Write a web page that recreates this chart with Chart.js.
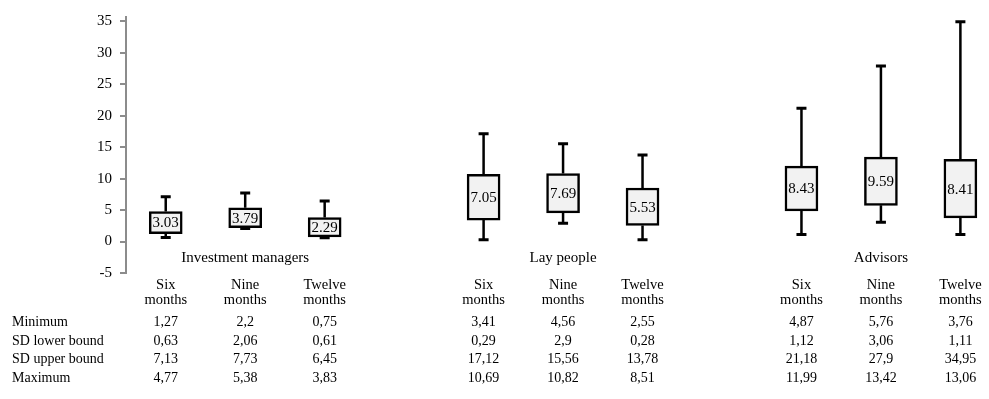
<!DOCTYPE html>
<html>
<head>
<meta charset="utf-8">
<script src="https://cdn.jsdelivr.net/npm/chart.js@4"></script>
<style>
  html, body { margin: 0; padding: 0; background: #fff; overflow: hidden; }
  canvas { display: block; }
</style>
</head>
<body>
<canvas id="boxChart" width="989" height="399"></canvas>
<script>
// categories
const groups = ['Investment managers', 'Lay people', 'Advisors'];
const periods = [['Six', 'months'], ['Nine', 'months'], ['Twelve', 'months']];
const rowNames = ['Minimum', 'SD lower bound', 'SD upper bound', 'Maximum'];

// series values, one per box (group by group, six/nine/twelve months)
const means   = [3.03, 3.79, 2.29, 7.05, 7.69, 5.53, 8.43, 9.59, 8.41];
const minimum = [1.27, 2.2, 0.75, 3.41, 4.56, 2.55, 4.87, 5.76, 3.76];
const sdLower = [0.63, 2.06, 0.61, 0.29, 2.9, 0.28, 1.12, 3.06, 1.11];
const sdUpper = [7.13, 7.73, 6.45, 17.12, 15.56, 13.78, 21.18, 27.9, 34.95];
const maximum = [4.77, 5.38, 3.83, 10.69, 10.82, 8.51, 11.99, 13.42, 13.06];

//slot index on the x scale: three boxes per group, one empty slot between groups
const slots = groups.flatMap((g, gi) => periods.map((p, pi) => gi * (periods.length + 1) + pi));
const fmt = v => String(v).replace('.', ',');
const serif = 'Liberation Serif, Times New Roman, serif';

const boxExtras = {
    id: 'boxExtras',
    afterDatasetsDraw(chart) {
        const ctx = chart.ctx;
        const x = chart.scales.x, y = chart.scales.y;
        ctx.save();
        ctx.strokeStyle = '#000';
        slots.forEach((s, i) => {
            const px = x.getPixelForValue(s);
            //whiskers from box edges to SD bounds
            ctx.lineWidth = 2.5;
            ctx.beginPath();
            ctx.moveTo(px, y.getPixelForValue(maximum[i]));
            ctx.lineTo(px, y.getPixelForValue(sdUpper[i]));
            ctx.moveTo(px, y.getPixelForValue(minimum[i]));
            ctx.lineTo(px, y.getPixelForValue(sdLower[i]));
            ctx.stroke();
            //caps
            ctx.lineWidth = 3;
            ctx.beginPath();
            [sdUpper[i], sdLower[i]].forEach(v => {
                const py = y.getPixelForValue(v);
                ctx.moveTo(px - 5, py);
                ctx.lineTo(px + 5, py);
            });
            ctx.stroke();
            //mean label
            ctx.fillStyle = '#000';
            ctx.font = '15px ' + serif;
            ctx.textAlign = 'center';
            ctx.textBaseline = 'middle';
            ctx.fillText(String(means[i]), px, y.getPixelForValue(means[i]) + 1);
        });
        ctx.restore();
    },
    afterDraw(chart) {
        const ctx = chart.ctx;
        const x = chart.scales.x, y = chart.scales.y;
        ctx.save();
        ctx.fillStyle = '#000';
        ctx.textBaseline = 'middle';
        ctx.textAlign = 'center';
        //group labels under the boxes
        ctx.font = '15px ' + serif;
        groups.forEach((g, gi) => {
            ctx.fillText(g, x.getPixelForValue(slots[gi * periods.length + 1]), y.getPixelForValue(-2.6));
        });
        //column headers
        ctx.font = '14.5px ' + serif;
        slots.forEach((s, i) => {
            const px = x.getPixelForValue(s);
            const p = periods[i % periods.length];
            ctx.fillText(p[0], px, 285);
            ctx.fillText(p[1], px, 300);
        });
        //data table
        ctx.font = '14px ' + serif;
        const rows = [minimum, sdLower, sdUpper, maximum];
        const rowY = [322, 341, 359.5, 378];
        rows.forEach((r, ri) => {
            ctx.textAlign = 'left';
            ctx.fillText(rowNames[ri], 12, rowY[ri]);
            ctx.textAlign = 'center';
            r.forEach((v, i) => ctx.fillText(fmt(v), x.getPixelForValue(slots[i]), rowY[ri]));
        });
        ctx.restore();
    }
};

const ctx = document.getElementById('boxChart').getContext('2d');
new Chart(ctx, {
    type: 'bar',
    data: {
        datasets: [{
            label: 'Range',
            data: slots.map((s, i) => ({ x: s, y: [minimum[i], maximum[i]] })),
            backgroundColor: '#f2f2f2',
            borderColor: '#000',
            borderWidth: 2.5,
            borderSkipped: false,
            barThickness: 33
        }]
    },
    options: {
        responsive: false,
        animation: false,
        devicePixelRatio: 1,
        layout: { padding: { top: 15.6, bottom: 126, left: 0, right: 0 } },
        plugins: { legend: { display: false }, tooltip: { enabled: false } },
        scales: {
            x: { type: 'linear', min: -0.5, max: 10.36, offset: false, grid: { offset: false }, display: false },
            y: {
                min: -5,
                max: 35.7,
                afterFit(scale) { scale.width = 126; },
                border: { color: '#8c8c8c', width: 2 },
                grid: { drawOnChartArea: false, color: '#8c8c8c', lineWidth: 2, tickLength: 6 },
                ticks: {
                    stepSize: 5,
                    includeBounds: false,
                    padding: 8,
                    color: '#000',
                    font: { family: serif, size: 15 }
                }
            }
        }
    },
    plugins: [boxExtras]
});
</script>
</body>
</html>
